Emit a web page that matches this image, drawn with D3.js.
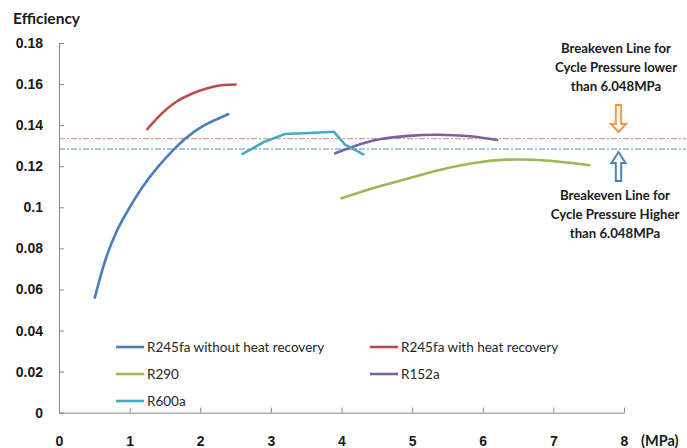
<!DOCTYPE html>
<html>
<head>
<meta charset="utf-8">
<script src="https://cdn.jsdelivr.net/npm/d3@7"></script>
<style>
  body { margin: 0; background: #fff; }
  svg { display: block; font-family: Lato, 'Open Sans', sans-serif; }
  .axis path, .axis line { stroke: #868686; }
  .axis text { font-size: 14px; font-weight: bold; fill: #1a1a1a; }
</style>
</head>
<body>
<svg width="687" height="448"></svg>
<script>
// values: [pressure MPa, efficiency]
const r245faWithout = [[0.507, 0.056], [0.649, 0.0735], [0.814, 0.0881], [0.979, 0.0987], [1.168, 0.1092],
  [1.404, 0.1198], [1.64, 0.1287], [1.782, 0.1333], [2.018, 0.1392], [2.395, 0.1453]];
const r245faWith = [[1.25, 0.1381], [1.45, 0.1455], [1.66, 0.1514], [1.88, 0.1553], [2.09, 0.1579],
  [2.3, 0.1594], [2.5, 0.1598]];
const r290 = [[4.0, 0.1044], [4.4, 0.1088], [4.78, 0.1125], [5.15, 0.116], [5.49, 0.119],
  [5.9, 0.1217], [6.34, 0.1232], [6.9, 0.1228], [7.51, 0.1205]];
const r152a = [[3.91, 0.1263], [4.16, 0.1295], [4.54, 0.1331], [4.95, 0.1348], [5.35, 0.1353],
  [5.82, 0.1346], [6.2, 0.1328]];
const r600a = [[2.6, 0.126], [2.9, 0.1318], [3.2, 0.1357], [3.55, 0.1362], [3.89, 0.1368],
  [4.05, 0.1305], [4.31, 0.1258]];

const breakevenLower = 0.1334;
const breakevenHigher = 0.1284;

const xTicks = [0, 1, 2, 3, 4, 5, 6, 7, 8];
const yTicks = [0, 0.02, 0.04, 0.06, 0.08, 0.1, 0.12, 0.14, 0.16, 0.18];

const seriesNames = ['R245fa without heat recovery', 'R245fa with heat recovery', 'R290', 'R152a', 'R600a'];
const seriesColors = ['#4a7ebb', '#be4b48', '#98b954', '#7d60a0', '#46aac5'];
const seriesData = [r245faWithout, r245faWith, r290, r152a, r600a];

const svg = d3.select('svg');
const mLeft = 59, mRight = 624, mTop = 43, mBottom = 412.7;

const x = d3.scaleLinear().domain([0, 8]).range([mLeft, mRight]);
const y = d3.scaleLinear().domain([0, 0.18]).range([mBottom, mTop]);

// axes with inside ticks like the excel original
const xAxis = d3.axisBottom(x).tickValues(xTicks).tickFormat(d3.format('d'))
  .tickSizeInner(-5).tickSizeOuter(0);
svg.append('g').attr('class', 'axis')
  .attr('transform', `translate(0,${mBottom})`)
  .call(xAxis)
  .call(g => g.selectAll('text').attr('y', 28.5).attr('dy', '0.35em'));

const yAxis = d3.axisLeft(y).tickValues(yTicks).tickFormat(d => d === 0 ? '0' : d3.format('~g')(+d.toFixed(2)))
  .tickSizeInner(-5).tickSizeOuter(0).tickPadding(16);
svg.append('g').attr('class', 'axis')
  .attr('transform', `translate(${mLeft},0)`)
  .call(yAxis);

svg.append('text').attr('x', 13).attr('y', 19).attr('dy', '0.35em')
  .style('font-size', '15.5px').style('font-weight', 'bold').attr('fill', '#1a1a1a')
  .text('Efficiency');
svg.append('text').attr('x', 641).attr('y', 441).attr('dy', '0.35em')
  .style('font-size', '14.5px').style('font-weight', 'bold').attr('fill', '#1a1a1a')
  .text('(MPa)');

// breakeven lines run past the plot to the edge
svg.append('line')
  .attr('x1', x(0)).attr('x2', 686).attr('y1', y(breakevenLower)).attr('y2', y(breakevenLower))
  .attr('stroke', '#e39896').attr('stroke-width', 1.2).attr('stroke-dasharray', '6,2,2,2');
svg.append('line')
  .attr('x1', x(0)).attr('x2', 686).attr('y1', y(breakevenHigher)).attr('y2', y(breakevenHigher))
  .attr('stroke', '#5b8fcc').attr('stroke-width', 1.2).attr('stroke-dasharray', '6,2,2,2');

const smooth = d3.line().x(d => x(d[0])).y(d => y(d[1])).curve(d3.curveNatural);
const straight = d3.line().x(d => x(d[0])).y(d => y(d[1]));

svg.append('g').selectAll('path')
  .data(seriesData)
  .join('path')
  .attr('d', (d, i) => i === 4 ? straight(d) : smooth(d))
  .attr('fill', 'none')
  .attr('stroke', (d, i) => seriesColors[i])
  .attr('stroke-width', 2.6)
  .attr('stroke-linejoin', 'round')
  .attr('stroke-linecap', 'round');

// legend, 2 columns
const legendCols = [116, 370];
const legendRows = [347, 374, 401];
const legend = svg.append('g').selectAll('g')
  .data(seriesNames)
  .join('g')
  .attr('transform', (d, i) => `translate(${legendCols[i % 2]},${legendRows[Math.floor(i / 2)]})`);
legend.append('line')
  .attr('x1', 0).attr('x2', 28)
  .attr('stroke', (d, i) => seriesColors[i]).attr('stroke-width', 2.6);
legend.append('text')
  .attr('x', 31).attr('dy', '0.35em')
  .style('font-size', '13.5px').attr('fill', '#262626')
  .text(d => d);

// annotations
const noteLower = ['Breakeven Line for', 'Cycle Pressure lower', 'than 6.048MPa'];
const noteHigher = ['Breakeven Line for', 'Cycle Pressure Higher', 'than 6.048MPa'];
function note(lines, cx, y0) {
  svg.append('g').selectAll('text')
    .data(lines)
    .join('text')
    .attr('x', cx).attr('y', (d, i) => y0 + i * 19).attr('dy', '0.35em')
    .attr('text-anchor', 'middle')
    .style('font-size', '13.2px').style('font-weight', 'bold').attr('fill', '#1a1a1a')
    .text(d => d);
}
note(noteLower, 616, 48);
note(noteHigher, 615, 195);

// hollow block arrows
const ax = 618.5;
const downArrow = [[ax - 2.7, 105], [ax + 2.7, 105], [ax + 2.7, 124], [ax + 7.5, 124], [ax, 132],
  [ax - 7.5, 124], [ax - 2.7, 124]];
const upArrow = [[ax - 2.7, 181], [ax + 2.7, 181], [ax + 2.7, 163], [ax + 7, 163], [ax, 152],
  [ax - 7, 163], [ax - 2.7, 163]];
svg.append('polygon').attr('points', downArrow.join(' '))
  .attr('fill', '#fff').attr('stroke', '#f79646').attr('stroke-width', 2);
svg.append('polygon').attr('points', upArrow.join(' '))
  .attr('fill', '#fff').attr('stroke', '#4f81bd').attr('stroke-width', 2);
</script>
</body>
</html>
